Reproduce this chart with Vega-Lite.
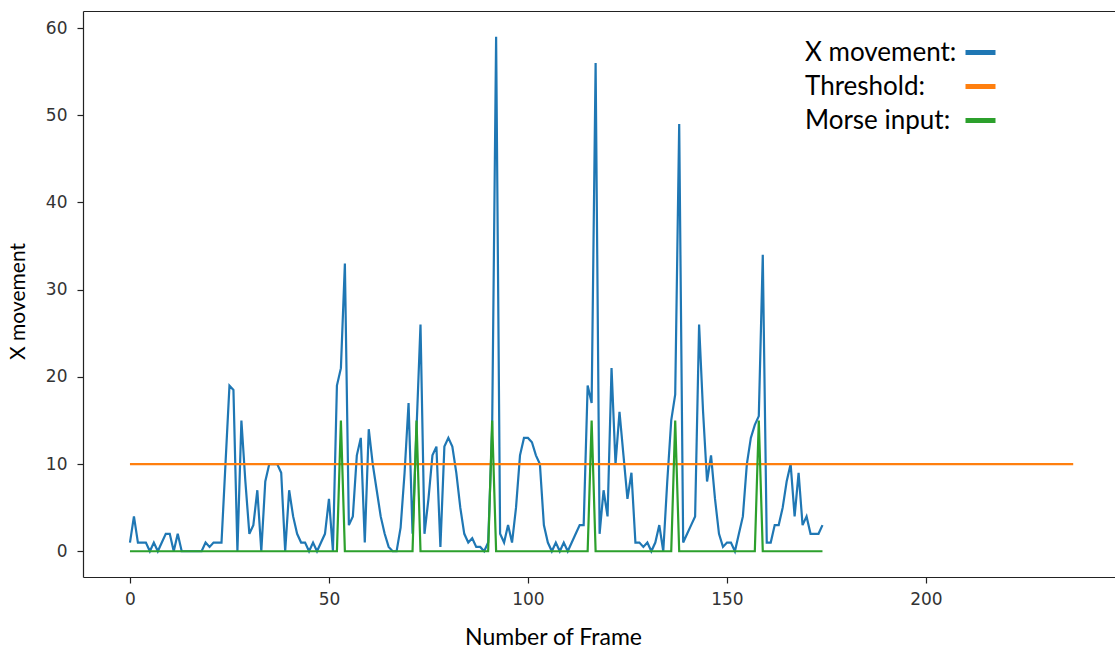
{
  "$schema": "https://vega.github.io/schema/vega-lite/v6.json",
  "width": 1032,
  "height": 566,
  "autosize": {"type": "none"},
  "padding": {"left": 83, "top": 11, "right": 0, "bottom": 75},
  "background": "white",
  "config": {
    "view": {"stroke": null},
    "axis": {
      "grid": false,
      "domainColor": "#222",
      "domainWidth": 1.2,
      "tickColor": "#222",
      "tickWidth": 1.2,
      "tickSize": 6,
      "labelFont": "DejaVu Sans",
      "labelFontSize": 17,
      "labelColor": "#333",
      "labelPadding": 8,
      "titleFont": "Lato",
      "titleFontWeight": "normal",
      "titleFontSize": 23,
      "titleColor": "#000"
    },
    "legend": {
      "orient": "none",
      "legendX": 880,
      "legendY": 24,
      "symbolType": "stroke",
      "symbolSize": 900,
      "symbolStrokeWidth": 5,
      "labelFont": "Lato",
      "labelFontSize": 26,
      "labelColor": "#000",
      "labelAlign": "left",
      "labelOffset": -193,
      "rowPadding": 3
    }
  },
  "datasets": {
    "frames": [
      {"frame":0,"movement":1,"morse":0},{"frame":1,"movement":4,"morse":0},{"frame":2,"movement":1,"morse":0},{"frame":3,"movement":1,"morse":0},{"frame":4,"movement":1,"morse":0},
      {"frame":5,"movement":0,"morse":0},{"frame":6,"movement":1,"morse":0},{"frame":7,"movement":0,"morse":0},{"frame":8,"movement":1,"morse":0},{"frame":9,"movement":2,"morse":0},
      {"frame":10,"movement":2,"morse":0},{"frame":11,"movement":0,"morse":0},{"frame":12,"movement":2,"morse":0},{"frame":13,"movement":0,"morse":0},{"frame":14,"movement":0,"morse":0},
      {"frame":15,"movement":0,"morse":0},{"frame":16,"movement":0,"morse":0},{"frame":17,"movement":0,"morse":0},{"frame":18,"movement":0,"morse":0},{"frame":19,"movement":1,"morse":0},
      {"frame":20,"movement":0.5,"morse":0},{"frame":21,"movement":1,"morse":0},{"frame":22,"movement":1,"morse":0},{"frame":23,"movement":1,"morse":0},{"frame":24,"movement":10,"morse":0},
      {"frame":25,"movement":19,"morse":0},{"frame":26,"movement":18.5,"morse":0},{"frame":27,"movement":0,"morse":0},{"frame":28,"movement":15,"morse":0},{"frame":29,"movement":8,"morse":0},
      {"frame":30,"movement":2,"morse":0},{"frame":31,"movement":3,"morse":0},{"frame":32,"movement":7,"morse":0},{"frame":33,"movement":0,"morse":0},{"frame":34,"movement":8,"morse":0},
      {"frame":35,"movement":10,"morse":0},{"frame":36,"movement":10,"morse":0},{"frame":37,"movement":10,"morse":0},{"frame":38,"movement":9,"morse":0},{"frame":39,"movement":0,"morse":0},
      {"frame":40,"movement":7,"morse":0},{"frame":41,"movement":4,"morse":0},{"frame":42,"movement":2,"morse":0},{"frame":43,"movement":1,"morse":0},{"frame":44,"movement":1,"morse":0},
      {"frame":45,"movement":0,"morse":0},{"frame":46,"movement":1,"morse":0},{"frame":47,"movement":0,"morse":0},{"frame":48,"movement":1,"morse":0},{"frame":49,"movement":2,"morse":0},
      {"frame":50,"movement":6,"morse":0},{"frame":51,"movement":0,"morse":0},{"frame":52,"movement":19,"morse":0},{"frame":53,"movement":21,"morse":15},{"frame":54,"movement":33,"morse":0},
      {"frame":55,"movement":3,"morse":0},{"frame":56,"movement":4,"morse":0},{"frame":57,"movement":11,"morse":0},{"frame":58,"movement":13,"morse":0},{"frame":59,"movement":1,"morse":0},
      {"frame":60,"movement":14,"morse":0},{"frame":61,"movement":10,"morse":0},{"frame":62,"movement":7,"morse":0},{"frame":63,"movement":4,"morse":0},{"frame":64,"movement":2,"morse":0},
      {"frame":65,"movement":0.5,"morse":0},{"frame":66,"movement":0,"morse":0},{"frame":67,"movement":0,"morse":0},{"frame":68,"movement":2.7,"morse":0},{"frame":69,"movement":9,"morse":0},
      {"frame":70,"movement":17,"morse":0},{"frame":71,"movement":2,"morse":0},{"frame":72,"movement":14,"morse":15},{"frame":73,"movement":26,"morse":0},{"frame":74,"movement":2,"morse":0},
      {"frame":75,"movement":6,"morse":0},{"frame":76,"movement":11,"morse":0},{"frame":77,"movement":12,"morse":0},{"frame":78,"movement":0.5,"morse":0},{"frame":79,"movement":12,"morse":0},
      {"frame":80,"movement":13,"morse":0},{"frame":81,"movement":12,"morse":0},{"frame":82,"movement":9,"morse":0},{"frame":83,"movement":5,"morse":0},{"frame":84,"movement":2,"morse":0},
      {"frame":85,"movement":1,"morse":0},{"frame":86,"movement":1.5,"morse":0},{"frame":87,"movement":0.5,"morse":0},{"frame":88,"movement":0.5,"morse":0},{"frame":89,"movement":0,"morse":0},
      {"frame":90,"movement":1,"morse":0},{"frame":91,"movement":14,"morse":15},{"frame":92,"movement":59,"morse":0},{"frame":93,"movement":2,"morse":0},{"frame":94,"movement":1,"morse":0},
      {"frame":95,"movement":3,"morse":0},{"frame":96,"movement":1,"morse":0},{"frame":97,"movement":5,"morse":0},{"frame":98,"movement":11,"morse":0},{"frame":99,"movement":13,"morse":0},
      {"frame":100,"movement":13,"morse":0},{"frame":101,"movement":12.5,"morse":0},{"frame":102,"movement":11,"morse":0},{"frame":103,"movement":10,"morse":0},{"frame":104,"movement":3,"morse":0},
      {"frame":105,"movement":1,"morse":0},{"frame":106,"movement":0,"morse":0},{"frame":107,"movement":1,"morse":0},{"frame":108,"movement":0,"morse":0},{"frame":109,"movement":1,"morse":0},
      {"frame":110,"movement":0,"morse":0},{"frame":111,"movement":1,"morse":0},{"frame":112,"movement":2,"morse":0},{"frame":113,"movement":3,"morse":0},{"frame":114,"movement":3,"morse":0},
      {"frame":115,"movement":19,"morse":0},{"frame":116,"movement":17,"morse":15},{"frame":117,"movement":56,"morse":0},{"frame":118,"movement":2,"morse":0},{"frame":119,"movement":7,"morse":0},
      {"frame":120,"movement":4,"morse":0},{"frame":121,"movement":21,"morse":0},{"frame":122,"movement":10,"morse":0},{"frame":123,"movement":16,"morse":0},{"frame":124,"movement":11,"morse":0},
      {"frame":125,"movement":6,"morse":0},{"frame":126,"movement":9,"morse":0},{"frame":127,"movement":1,"morse":0},{"frame":128,"movement":1,"morse":0},{"frame":129,"movement":0.5,"morse":0},
      {"frame":130,"movement":1,"morse":0},{"frame":131,"movement":0,"morse":0},{"frame":132,"movement":1,"morse":0},{"frame":133,"movement":3,"morse":0},{"frame":134,"movement":0,"morse":0},
      {"frame":135,"movement":8,"morse":0},{"frame":136,"movement":15,"morse":0},{"frame":137,"movement":18,"morse":15},{"frame":138,"movement":49,"morse":0},{"frame":139,"movement":1,"morse":0},
      {"frame":140,"movement":2,"morse":0},{"frame":141,"movement":3,"morse":0},{"frame":142,"movement":4,"morse":0},{"frame":143,"movement":26,"morse":0},{"frame":144,"movement":16,"morse":0},
      {"frame":145,"movement":8,"morse":0},{"frame":146,"movement":11,"morse":0},{"frame":147,"movement":6,"morse":0},{"frame":148,"movement":2,"morse":0},{"frame":149,"movement":0.5,"morse":0},
      {"frame":150,"movement":1,"morse":0},{"frame":151,"movement":1,"morse":0},{"frame":152,"movement":0,"morse":0},{"frame":153,"movement":2,"morse":0},{"frame":154,"movement":4,"morse":0},
      {"frame":155,"movement":10,"morse":0},{"frame":156,"movement":13,"morse":0},{"frame":157,"movement":14.5,"morse":0},{"frame":158,"movement":15.5,"morse":15},{"frame":159,"movement":34,"morse":0},
      {"frame":160,"movement":1,"morse":0},{"frame":161,"movement":1,"morse":0},{"frame":162,"movement":3,"morse":0},{"frame":163,"movement":3,"morse":0},{"frame":164,"movement":5,"morse":0},
      {"frame":165,"movement":8,"morse":0},{"frame":166,"movement":10,"morse":0},{"frame":167,"movement":4,"morse":0},{"frame":168,"movement":9,"morse":0},{"frame":169,"movement":3,"morse":0},
      {"frame":170,"movement":4,"morse":0},{"frame":171,"movement":2,"morse":0},{"frame":172,"movement":2,"morse":0},{"frame":173,"movement":2,"morse":0},{"frame":174,"movement":3,"morse":0}
    ],
    "threshold": [
      {"frame": 0, "threshold": 10},
      {"frame": 237, "threshold": 10}
    ]
  },
  "resolve": {"axis": {"x": "independent", "y": "independent"}},
  "layer": [
    {
      "data": {"name": "frames"},
      "mark": {"type": "line", "strokeWidth": 2.2, "clip": true},
      "encoding": {
        "x": {"field": "frame", "type": "quantitative", "scale": {"domain": [-11.8, 247.5], "nice": false, "zero": false},
              "axis": {"values": [0, 50, 100, 150, 200], "title": "Number of Frame", "titleX": 470, "titleY": 60, "titleBaseline": "middle"}},
        "y": {"field": "movement", "type": "quantitative", "scale": {"domain": [-2.95, 61.95], "nice": false, "zero": false},
              "axis": {"values": [0, 10, 20, 30, 40, 50, 60], "title": "X movement", "titleFontSize": 21, "titleX": -65, "titleY": 290, "titleBaseline": "middle", "labelPadding": 10}},
        "color": {"datum": "X movement", "type": "nominal",
                  "scale": {"domain": ["X movement", "Threshold", "Morse input"], "range": ["#1f77b4", "#ff7f0e", "#2ca02c"]},
                  "legend": {"title": null, "labelExpr": "datum.label + ':'"}}
      }
    },
    {
      "data": {"name": "threshold"},
      "mark": {"type": "line", "strokeWidth": 2.2, "clip": true},
      "encoding": {
        "x": {"field": "frame", "type": "quantitative", "axis": null},
        "y": {"field": "threshold", "type": "quantitative", "axis": null},
        "color": {"datum": "Threshold", "type": "nominal"}
      }
    },
    {
      "data": {"name": "frames"},
      "mark": {"type": "line", "strokeWidth": 2.2, "clip": true},
      "encoding": {
        "x": {"field": "frame", "type": "quantitative", "axis": null},
        "y": {"field": "morse", "type": "quantitative", "axis": null},
        "color": {"datum": "Morse input", "type": "nominal"}
      }
    },
    {
      "data": {"name": "threshold"},
      "mark": {"type": "line", "opacity": 0},
      "encoding": {
        "x": {"field": "frame", "type": "quantitative",
              "axis": {"orient": "top", "labels": false, "ticks": false, "title": null, "domain": true}},
        "y": {"field": "threshold", "type": "quantitative", "axis": null}
      }
    }
  ]
}
